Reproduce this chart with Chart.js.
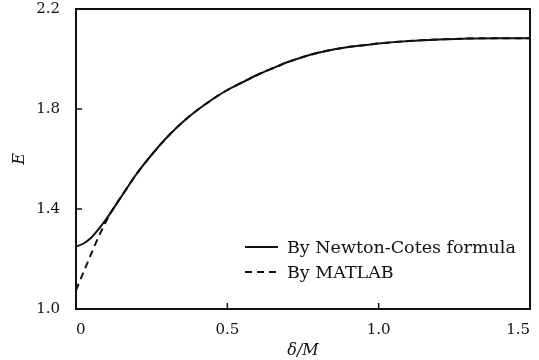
<!DOCTYPE html>
<html>
<head>
<meta charset="utf-8">
<script src="https://cdn.jsdelivr.net/npm/chart.js@4.4.1/dist/chart.umd.min.js"></script>
<style>
    html, body { margin: 0; padding: 0; background: #fff; }
    #wrap { width: 539px; height: 360px; }
</style>
</head>
<body>
<div id="wrap"><canvas id="energyChart"></canvas></div>
<script>
// δ/M values and E
const deltaNC = [0, 0.025, 0.05, 0.075, 0.1, 0.15, 0.2, 0.25, 0.3, 0.35, 0.4, 0.45, 0.5, 0.55, 0.6, 0.65, 0.7, 0.75, 0.8, 0.85, 0.9, 0.95, 1.0, 1.1, 1.2, 1.3, 1.4, 1.5];
const energyNC = [1.25, 1.262, 1.285, 1.32, 1.36, 1.45, 1.54, 1.617, 1.686, 1.745, 1.795, 1.838, 1.876, 1.907, 1.937, 1.963, 1.988, 2.008, 2.025, 2.038, 2.048, 2.055, 2.062, 2.072, 2.078, 2.082, 2.083, 2.083];

const deltaMatlab = [0, 0.025, 0.05, 0.075, 0.1, 0.125, 0.15, 0.2, 0.25, 0.3, 0.35, 0.4, 0.45, 0.5, 0.55, 0.6, 0.65, 0.7, 0.75, 0.8, 0.85, 0.9, 0.95, 1.0, 1.1, 1.2, 1.3, 1.4, 1.5];
const energyMatlab = [1.075, 1.148, 1.22, 1.29, 1.352, 1.405, 1.45, 1.54, 1.617, 1.686, 1.745, 1.795, 1.838, 1.876, 1.907, 1.937, 1.963, 1.988, 2.008, 2.025, 2.038, 2.048, 2.055, 2.062, 2.072, 2.078, 2.082, 2.083, 2.083];

const seriesLabels = ['By Newton-Cotes formula', 'By MATLAB'];
const xTicks = [0, 0.5, 1.0, 1.5];
const yTicks = [1.0, 1.4, 1.8, 2.2];

const serif = "'DejaVu Serif', 'Liberation Serif', serif";

function toPoints(xs, ys) {
    return xs.map((x, i) => ({ x: x, y: ys[i] }));
}

// frame around the plot + inward tick marks
const framePlugin = {
    id: 'frame',
    afterDraw(chart) {
        const ctx = chart.ctx;
        const a = chart.chartArea;
        const xs = chart.scales.x;
        const ys = chart.scales.y;
        ctx.save();
        ctx.strokeStyle = '#111';
        ctx.lineWidth = 2;
        ctx.strokeRect(a.left, a.top, a.right - a.left, a.bottom - a.top);
        ctx.lineWidth = 1.5;
        ctx.beginPath();
        xTicks.forEach(v => {
            const px = xs.getPixelForValue(v);
            ctx.moveTo(px, a.bottom);
            ctx.lineTo(px, a.bottom - 6);
        });
        yTicks.forEach(v => {
            const py = ys.getPixelForValue(v);
            ctx.moveTo(a.left, py);
            ctx.lineTo(a.left + 6, py);
        });
        ctx.stroke();
        ctx.restore();
    }
};

// legend drawn inside the plot, lower right
const legendPlugin = {
    id: 'innerLegend',
    afterDraw(chart) {
        const ctx = chart.ctx;
        ctx.save();
        ctx.font = '17.5px ' + serif;
        ctx.fillStyle = '#111';
        ctx.textBaseline = 'middle';
        chart.data.datasets.forEach((ds, i) => {
            const y = 247 + i * 25;
            ctx.strokeStyle = ds.borderColor;
            ctx.lineWidth = ds.borderWidth;
            ctx.setLineDash(ds.borderDash || []);
            ctx.beginPath();
            ctx.moveTo(245, y);
            ctx.lineTo(278, y);
            ctx.stroke();
            ctx.setLineDash([]);
            ctx.fillText(ds.label, 287, y + 1);
        });
        ctx.restore();
    }
};

const ctx = document.getElementById('energyChart').getContext('2d');
new Chart(ctx, {
    type: 'line',
    data: {
        datasets: [
            {
                label: seriesLabels[0],
                data: toPoints(deltaNC, energyNC),
                borderColor: '#111',
                borderWidth: 2,
                pointRadius: 0,
                cubicInterpolationMode: 'monotone',
                fill: false
            },
            {
                label: seriesLabels[1],
                data: toPoints(deltaMatlab, energyMatlab),
                borderColor: '#111',
                borderWidth: 2,
                borderDash: [7, 5],
                pointRadius: 0,
                cubicInterpolationMode: 'monotone',
                fill: false
            }
        ]
    },
    options: {
        responsive: true,
        maintainAspectRatio: false,
        animation: false,
        layout: { padding: { top: 9, right: 9, left: 0, bottom: 0 } },
        plugins: {
            legend: { display: false },
            tooltip: { enabled: false }
        },
        scales: {
            x: {
                type: 'linear',
                min: 0,
                max: 1.5,
                afterBuildTicks: scale => { scale.ticks = xTicks.map(v => ({ value: v })); },
                afterFit: scale => {
                    scale.height = 51;
                    scale.paddingLeft = 0;
                    scale.paddingRight = 0;
                },
                grid: { display: false },
                border: { display: false },
                ticks: {
                    color: '#111',
                    padding: 4,
                    maxRotation: 0,
                    align: 'inner',
                    font: { family: serif, size: 15 },
                    callback: v => v === 0 ? '0' : v.toFixed(1)
                },
                title: {
                    display: true,
                    text: 'δ/M',
                    color: '#111',
                    padding: { top: 0, bottom: 0 },
                    font: { family: serif, size: 16, style: 'italic' }
                }
            },
            y: {
                type: 'linear',
                min: 1.0,
                max: 2.2,
                afterBuildTicks: scale => { scale.ticks = yTicks.map(v => ({ value: v })); },
                afterFit: scale => {
                    scale.width = 76;
                    scale.paddingTop = 0;
                    scale.paddingBottom = 0;
                },
                grid: { display: false },
                border: { display: false },
                ticks: {
                    color: '#111',
                    padding: 8,
                    font: { family: serif, size: 15 },
                    callback: v => v.toFixed(1)
                },
                title: {
                    display: true,
                    text: 'E',
                    color: '#111',
                    padding: { top: 10, bottom: 4 },
                    font: { family: serif, size: 16, style: 'italic' }
                }
            }
        }
    },
    plugins: [framePlugin, legendPlugin]
});
</script>
</body>
</html>
